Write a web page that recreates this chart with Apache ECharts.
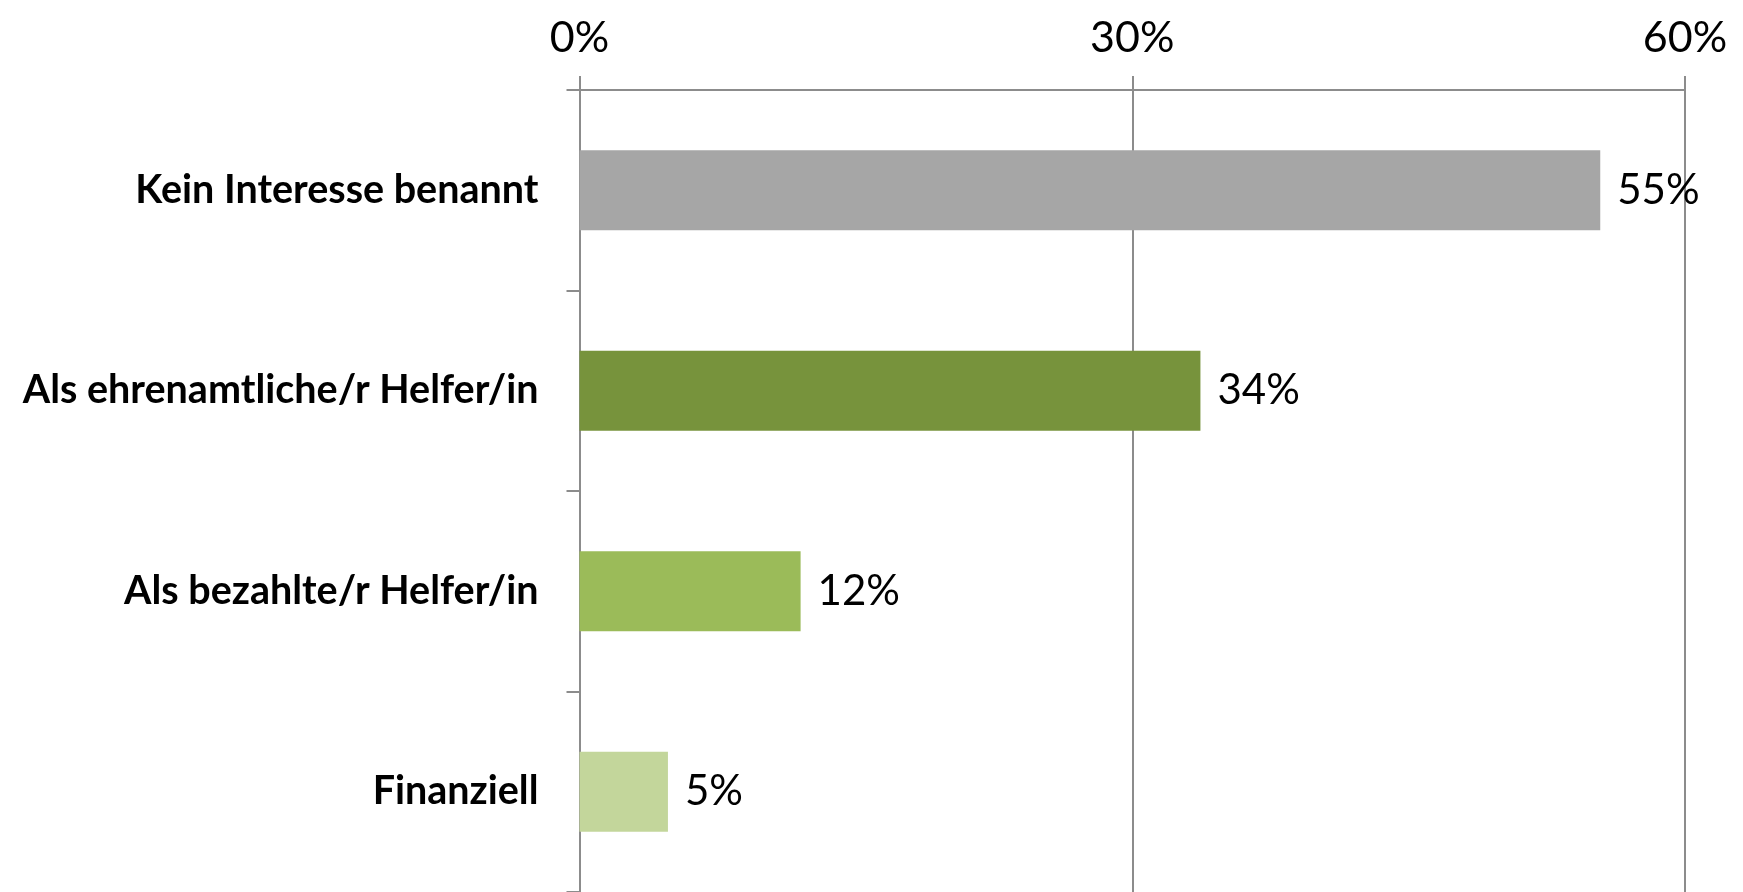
<!DOCTYPE html>
<html>
<head>
<meta charset="utf-8">
<script src="https://cdn.jsdelivr.net/npm/echarts@6/dist/echarts.min.js"></script>
<style>
html,body{margin:0;padding:0;background:#fff;}
#chart{width:1743px;height:892px;}
</style>
</head>
<body>
<div id="chart"></div>
<script>
const categories = ["Kein Interesse benannt", "Als ehrenamtliche/r Helfer/in", "Als bezahlte/r Helfer/in", "Finanziell"];
const values = [55.4, 33.7, 12.0, 4.8];
const valueLabels = ["55%", "34%", "12%", "5%"];
const barColors = ["#A6A6A6", "#77933C", "#9BBB59", "#C3D69B"];
const axisMin = 0, axisMax = 60, axisStep = 30;

const lineColor = "#8C8C8C";
const chart = echarts.init(document.getElementById('chart'));
chart.setOption({
  animation: false,
  backgroundColor: '#fff',
  grid: {left: 579.5, right: 58, top: 90, bottom: -6, containLabel: false},
  xAxis: {
    type: 'value', position: 'top', min: axisMin, max: axisMax, interval: axisStep,
    axisLine: {show: true, lineStyle: {color: lineColor, width: 2}},
    axisTick: {show: true, length: 14, lineStyle: {color: lineColor, width: 2}},
    splitLine: {show: true, lineStyle: {color: lineColor, width: 2}},
    axisLabel: {formatter: '{value}%', fontFamily: 'Lato', fontSize: 43, color: '#000', margin: 30}
  },
  yAxis: {
    type: 'category', inverse: true, data: categories,
    axisLine: {show: true, lineStyle: {color: lineColor, width: 2}},
    axisTick: {show: true, length: 13, lineStyle: {color: lineColor, width: 2}},
    axisLabel: {fontFamily: 'Lato', fontWeight: 'bold', fontSize: 39.5, color: '#000', margin: 41}
  },
  series: [{
    type: 'bar',
    data: values.map((v, i) => ({value: v, itemStyle: {color: barColors[i]}})),
    barCategoryGap: '60%',
    label: {
      show: true, position: 'right', distance: 17,
      formatter: p => valueLabels[p.dataIndex],
      fontFamily: 'Lato', fontSize: 42, color: '#000'
    }
  }]
});
</script>
</body>
</html>
